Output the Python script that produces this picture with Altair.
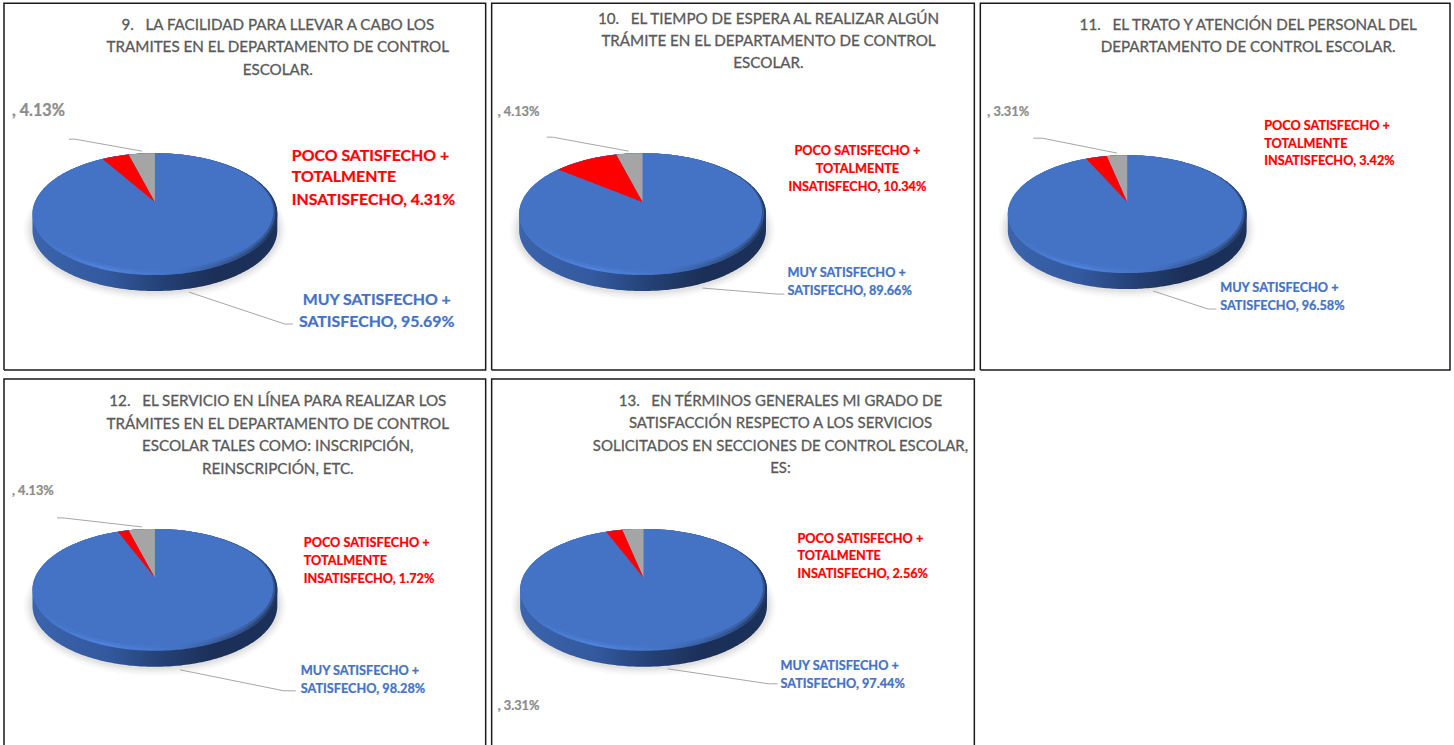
import math
import altair as alt
import pandas as pd

# Survey results, one entry per question
question_titles = [
    ["9.\u00a0\u00a0\u00a0LA FACILIDAD PARA LLEVAR A CABO LOS", "TRAMITES EN EL DEPARTAMENTO DE CONTROL", "ESCOLAR."],
    ["10.\u00a0\u00a0\u00a0EL TIEMPO DE ESPERA AL REALIZAR ALGÚN", "TRÁMITE EN EL DEPARTAMENTO DE CONTROL", "ESCOLAR."],
    ["11.\u00a0\u00a0\u00a0EL TRATO Y ATENCIÓN DEL PERSONAL DEL", "DEPARTAMENTO DE CONTROL ESCOLAR."],
    ["12.\u00a0\u00a0\u00a0EL SERVICIO EN LÍNEA PARA REALIZAR LOS", "TRÁMITES EN EL DEPARTAMENTO DE CONTROL",
     "ESCOLAR TALES COMO: INSCRIPCIÓN,", "REINSCRIPCIÓN, ETC."],
    ["13.\u00a0\u00a0\u00a0EN TÉRMINOS GENERALES MI GRADO DE", "SATISFACCIÓN RESPECTO A LOS SERVICIOS",
     "SOLICITADOS EN SECCIONES DE CONTROL ESCOLAR,", "ES:"],
]
satisfied_pct = [95.69, 89.66, 96.58, 98.28, 97.44]
unsatisfied_pct = [4.31, 10.34, 3.42, 1.72, 2.56]
unnamed_pct = [4.13, 4.13, 3.31, 4.13, 3.31]

# Label wrapping
red_lines = ["POCO SATISFECHO +", "TOTALMENTE", "INSATISFECHO, {:.2f}%"]
blue_lines = ["MUY SATISFECHO +", "SATISFECHO, {:.2f}%"]

BLUE = "#4472C4"
RED = "#FF0000"
GREY = "#A5A5A5"
LABEL_BLUE = "#4472C4"
TITLE_GREY = "#595959"
FONT = "Lato"
PERSPECTIVE = 0.46

# Page layout of every panel
panels = [
    dict(cell=(0, 488, 1, 375), box=(4, 486, 2, 369), closed=True,
         cx=155, rx=122.5, top=152, ry=61, apex=201, depth=16,
         title_x=278, title_y=[24, 46, 69], title_size=15.2,
         label_size=15.9, grey_size=16.2,
         red=dict(x=292, y=[155, 176, 199], align="left"),
         blue=dict(x=377, y=[299, 321], align="center"),
         grey=dict(x=12, y=110),
         grey_leader=[(69, 138), (75, 138), (142, 150)],
         blue_leader=[(189, 291), (285, 323), (293, 323)]),
    dict(cell=(488, 977, 1, 375), box=(491, 974, 2, 369), closed=True,
         cx=642, rx=123.5, top=152, ry=61, apex=201, depth=16,
         title_x=768, title_y=[18, 40, 62], title_size=15.2,
         label_size=12.7, grey_size=12.8,
         red=dict(x=857, y=[150, 168, 186], align="center"),
         blue=dict(x=787, y=[272, 290], align="left"),
         grey=dict(x=497, y=111),
         grey_leader=[(546, 136), (552, 136), (628, 150)],
         blue_leader=[(702, 287), (776, 293), (784, 293)]),
    dict(cell=(977, 1454, 1, 375), box=(980, 1450, 2, 369), closed=True,
         cx=1127, rx=119.5, top=154, ry=59, apex=201, depth=16,
         title_x=1248, title_y=[24, 46], title_size=15.2,
         label_size=12.7, grey_size=12.8,
         red=dict(x=1264, y=[125, 143, 160], align="left"),
         blue=dict(x=1220, y=[287, 305], align="left"),
         grey=dict(x=987, y=111),
         grey_leader=[(1033, 137), (1042, 137), (1117, 152)],
         blue_leader=[(1153, 290), (1208, 308), (1216, 308)]),
    dict(cell=(0, 488, 375, 746), box=(4, 486, 378, 746), closed=False,
         cx=155, rx=122.5, top=528, ry=61, apex=577, depth=16,
         title_x=278, title_y=[400, 423, 445, 468], title_size=15.2,
         label_size=12.7, grey_size=12.8,
         red=dict(x=304, y=[542, 560, 578], align="left"),
         blue=dict(x=301, y=[670, 688], align="left"),
         grey=dict(x=12, y=490),
         grey_leader=[(57, 517), (63, 517), (142, 526)],
         blue_leader=[(180, 669), (284, 690), (296, 690)]),
    dict(cell=(488, 977, 375, 746), box=(491, 974, 378, 746), closed=False,
         cx=643, rx=123.5, top=528, ry=61, apex=577, depth=16,
         title_x=780, title_y=[400, 422, 445, 467], title_size=15.0,
         label_size=12.7, grey_size=12.8,
         red=dict(x=797, y=[538, 555, 573], align="left"),
         blue=dict(x=780, y=[665, 683], align="left"),
         grey=dict(x=497, y=705),
         grey_leader=None,
         blue_leader=[(667, 668), (768, 683), (777, 683)]),
]


def ellipse_frame(cx, cy, rx, ry, drop=0, steps=160):
    """Outline of an ellipse as an area: upper edge y, lower edge y2 (optionally lowered)."""
    rows = []
    for i in range(steps + 1):
        t = math.pi * i / steps
        x = cx - rx * math.cos(t)
        h = ry * math.sin(t)
        rows.append({"x": x, "y": cy - h, "y2": cy + h + drop})
    return pd.DataFrame(rows)


def rim_point(p, share):
    """Where the slice boundary at a cumulative share meets the top ellipse."""
    theta = 2 * math.pi * share
    dx, dy = -math.sin(theta), -PERSPECTIVE * math.cos(theta)
    cy = p["top"] + p["ry"]
    a = (dx / p["rx"]) ** 2 + (dy / p["ry"]) ** 2
    b = 2 * dy * (p["apex"] - cy) / p["ry"] ** 2
    c = ((p["apex"] - cy) / p["ry"]) ** 2 - 1
    s = (-b + math.sqrt(b * b - 4 * a * c)) / (2 * a)
    return p["cx"] + s * dx, p["apex"] + s * dy


def slice_frame(p, share_from, share_to, steps=40):
    """Slice left of twelve o'clock as an area between the outer boundary and the inner one."""
    cx, apex = p["cx"], p["apex"]
    cy = p["top"] + p["ry"]
    near_x, near_y = rim_point(p, share_from) if share_from > 0 else (cx, p["top"])
    far_x, far_y = rim_point(p, share_to)
    rows = []
    for i in range(steps + 1):
        x = far_x + (cx - far_x) * i / steps
        lower = far_y + (apex - far_y) * (x - far_x) / (cx - far_x)
        if x <= near_x or share_from == 0:
            upper = cy - p["ry"] * math.sqrt(max(0, 1 - ((x - cx) / p["rx"]) ** 2))
        else:
            upper = near_y + (apex - near_y) * (x - near_x) / (cx - near_x)
        rows.append({"x": x, "y": upper, "y2": lower})
    # the corner on the shared boundary needs an exact sample
    if share_from > 0:
        rows.append({"x": near_x, "y": near_y,
                     "y2": far_y + (apex - far_y) * (near_x - far_x) / (cx - far_x)})
    return pd.DataFrame(rows).sort_values("x")


def build_panel(i, p):
    x0, x1, y0, y1 = p["cell"]
    xs = alt.Scale(domain=[x0, x1], nice=False, zero=False)
    ys = alt.Scale(domain=[y1, y0], nice=False, zero=False)
    X = alt.X("x:Q", scale=xs, axis=None)
    Y = alt.Y("y:Q", scale=ys, axis=None)
    Y2 = alt.Y2("y2:Q")

    def area(df, **mark):
        return alt.Chart(df).mark_area(**mark).encode(x=X, y=Y, y2=Y2)

    def path(points, color, width):
        df = pd.DataFrame([{"x": a, "y": b, "n": k} for k, (a, b) in enumerate(points)])
        return alt.Chart(df).mark_line(color=color, strokeWidth=width, interpolate="linear").encode(
            x=X, y=Y, order="n:Q")

    def text(lines, x, y_list, color, size, bold=True, align="left", heavy=0.25):
        df = pd.DataFrame({"x": [x] * len(lines), "y": y_list, "t": lines})
        return alt.Chart(df).mark_text(
            font=FONT, fontSize=size, fontWeight="bold" if bold else "normal",
            color=color, align=align, baseline="middle", stroke=color, strokeWidth=heavy,
        ).encode(x=X, y=Y, text="t:N")

    total = satisfied_pct[i] + unsatisfied_pct[i] + unnamed_pct[i]
    grey_share = unnamed_pct[i] / total
    red_share = (unnamed_pct[i] + unsatisfied_pct[i]) / total

    cx, rx, ry, depth = p["cx"], p["rx"], p["ry"], p["depth"]
    cy = p["top"] + ry
    layers = []

    # soft ground shadow under the disc
    for grow, alpha in [(9, 0.02), (7, 0.025), (5, 0.03), (3, 0.04)]:
        layers.append(area(ellipse_frame(cx, cy + depth, rx + grow, ry + grow),
                           color="#000000", opacity=alpha))

    # disc side wall
    side = alt.Gradient(gradient="linear", x1=0, x2=1, y1=0, y2=0, stops=[
        alt.GradientStop(offset=0, color="#3B64AC"),
        alt.GradientStop(offset=0.3, color="#33599F"),
        alt.GradientStop(offset=0.55, color="#233F72"),
        alt.GradientStop(offset=0.75, color="#1B2F57"),
        alt.GradientStop(offset=1, color="#1B3159"),
    ])
    layers.append(area(ellipse_frame(cx, cy, rx, ry, drop=depth), fill=side))

    # bevelled rim, feathered in two steps towards the flat top
    rim = alt.Gradient(gradient="linear", x1=0, x2=1, y1=0, y2=0, stops=[
        alt.GradientStop(offset=0, color="#4472C4"),
        alt.GradientStop(offset=0.3, color="#4F82DC"),
        alt.GradientStop(offset=0.6, color="#4472C4"),
        alt.GradientStop(offset=0.88, color="#2F4F86"),
        alt.GradientStop(offset=1, color="#20365F"),
    ])
    layers.append(area(ellipse_frame(cx, cy, rx, ry), fill=rim))
    layers.append(area(ellipse_frame(cx - 0.4, cy - 1.4, rx - 1.6, ry - 1.4), color=BLUE, opacity=0.5))
    layers.append(area(ellipse_frame(cx - 0.8, cy - 2.6, rx - 3.2, ry - 2.6), color=BLUE))

    # small slices
    layers.append(area(slice_frame(p, 0, grey_share), color=GREY))
    layers.append(area(slice_frame(p, grey_share, red_share), color=RED))

    # leader lines
    if p["grey_leader"]:
        layers.append(path(p["grey_leader"], "#A6A6A6", 1))
    layers.append(path(p["blue_leader"], "#A6A6A6", 1))

    # panel frame
    bx0, bx1, by0, by1 = p["box"]
    frame = [(bx0, by1), (bx0, by0), (bx1, by0), (bx1, by1)]
    if p["closed"]:
        frame.append((bx0, by1))
    layers.append(path(frame, "#1A1A1A", 1.5))

    # question and slice labels
    layers.append(text(question_titles[i], p["title_x"], p["title_y"], TITLE_GREY,
                       p["title_size"], bold=False, align="center", heavy=0.3))
    r = p["red"]
    layers.append(text([s.format(unsatisfied_pct[i]) for s in red_lines], r["x"], r["y"], RED,
                       p["label_size"], align=r["align"]))
    b = p["blue"]
    layers.append(text([s.format(satisfied_pct[i]) for s in blue_lines], b["x"], b["y"], LABEL_BLUE,
                       p["label_size"], align=b["align"]))
    g = p["grey"]
    layers.append(text([f", {unnamed_pct[i]:.2f}%"], g["x"], [g["y"]], "#8C8C8C", p["grey_size"]))

    return alt.layer(*layers).properties(width=x1 - x0, height=y1 - y0)


charts = [build_panel(i, p) for i, p in enumerate(panels)]
row1 = alt.hconcat(charts[0], charts[1], charts[2], spacing=0)
row2 = alt.hconcat(charts[3], charts[4], spacing=0)
chart = (
    alt.vconcat(row1, row2, spacing=0)
    .properties(padding=0, background="#FFFFFF")
    .configure_view(stroke=None)
)
chart.save("out.html", embed_options={"renderer": "svg", "actions": False})
